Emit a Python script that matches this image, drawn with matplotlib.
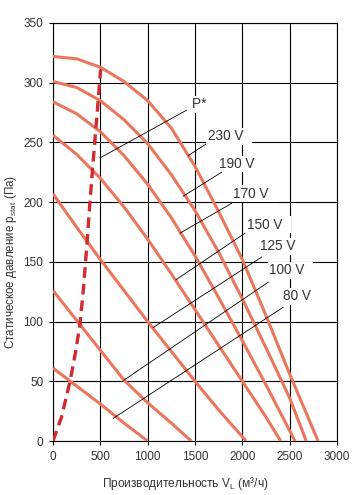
import matplotlib
matplotlib.use("Agg")
import matplotlib.pyplot as plt

plt.rcParams['font.family'] = ['Liberation Sans', 'DejaVu Sans']

# ------------------------------------------------------------
# Fan curves: airflow (m3/h) -> static pressure (Pa), per voltage
# ------------------------------------------------------------
flow_230 = [0, 250, 500, 750, 1000, 1250, 1500, 1750, 2000, 2250, 2500, 2800]
pres_230 = [322, 320, 313, 301, 285, 262, 230, 192, 152, 105, 56, 0]

flow_190 = [0, 250, 500, 750, 1000, 1250, 1500, 1750, 2000, 2250, 2500, 2675]
pres_190 = [301, 296, 285, 269, 249, 223, 193, 158, 119, 78, 36, 0]

flow_170 = [0, 250, 500, 750, 1000, 1250, 1500, 1750, 2000, 2250, 2556]
pres_170 = [284, 274, 259, 239, 215, 187, 155, 120, 84, 47, 0]

flow_150 = [0, 250, 500, 750, 1000, 1250, 1500, 1750, 2000, 2250, 2405]
pres_150 = [256, 240, 220, 196, 169, 140, 110, 80, 50, 20, 0]

flow_125 = [0, 250, 500, 750, 1000, 1250, 1500, 1750, 2040]
pres_125 = [207, 179, 152, 126, 100, 75, 50, 26, 0]

flow_100 = [0, 250, 500, 750, 1000, 1250, 1460]
pres_100 = [126, 101, 76, 51, 32, 15, 0]

flow_80 = [0, 250, 500, 750, 1000]
pres_80 = [61, 46, 31, 15, 0]

curves = [(flow_230, pres_230), (flow_190, pres_190), (flow_170, pres_170),
          (flow_150, pres_150), (flow_125, pres_125), (flow_100, pres_100),
          (flow_80, pres_80)]

# P* operating line (dashed)
p_flow = [0, 90, 180, 240, 285, 320, 356, 390, 420, 443, 472, 503]
p_pres = [0, 20, 50, 75, 98, 126, 162, 200, 230, 252, 280, 311]

# labels: text, text anchor (left/centre), leader start, leader end
label_text = ["P*", "230 V", "190 V", "170 V", "150 V", "125 V", "100 V", "80 V"]
label_pos = [(1465, 282), (1634, 255), (1753, 232), (1904, 207),
             (2045, 181), (2186, 163), (2281, 143), (2432, 121)]
leader_start = [(1411, 277), (1623, 249), (1781, 225), (1887, 199),
                (2028, 174), (2204, 154), (2274, 133), (2432, 112)]
leader_end = [(496, 237), (1429, 239), (1376, 205), (1341, 174),
              (1299, 135), (1059, 95), (750, 51), (637, 19)]

x_ticks = [0, 500, 1000, 1500, 2000, 2500, 3000]
y_ticks = [0, 50, 100, 150, 200, 250, 300, 350]

curve_color = '#EA765D'
dash_color = '#D22B2E'
text_color = '#333333'

fig = plt.figure(figsize=(3.56, 4.95), dpi=100)
ax = fig.add_axes([53 / 356, 1 - 441 / 495, 284 / 356, 418 / 495])

for fl, pr in curves:
    ax.plot(fl, pr, color=curve_color, lw=2.2, solid_capstyle='butt',
            solid_joinstyle='round', zorder=3)

ax.plot(p_flow, p_pres, color=dash_color, lw=2.4,
        linestyle=(0, (3.2, 1.8)), zorder=4)

for (x0, y0), (x1, y1) in zip(leader_start, leader_end):
    ax.plot([x0, x1], [y0, y1], color='black', lw=0.6, zorder=5)

for txt, (tx, ty) in zip(label_text, label_pos):
    ax.text(tx, ty, txt + "  ", fontsize=9.8, color=text_color,
            ha='left', va='center', zorder=6,
            bbox=dict(boxstyle='square,pad=0.1', fc='white', ec='none'))

ax.set_xlim(0, 3000)
ax.set_ylim(0, 350)
ax.set_xticks(x_ticks)
ax.set_yticks(y_ticks)
ax.grid(True, color='black', lw=0.8)
ax.set_axisbelow(True)
for sp in ax.spines.values():
    sp.set_color('black')
    sp.set_linewidth(0.8)
ax.tick_params(direction='out', length=3, width=0.8, colors='black',
               labelcolor=text_color, labelsize=8.5, pad=4)

fig.text(185.5 / 356, 1 - 483 / 495, 'Производительность V$_{\\mathregular{L}}$ (м³/ч)',
         fontsize=8.6, color=text_color, ha='center', va='center')
fig.text(11 / 356, 1 - 262 / 495,
         'Статическое давление p$_{\\mathregular{stat}}$ (Па)',
         fontsize=8.4, color=text_color, ha='center', va='center', rotation=90)

fig.savefig("out.png", dpi=100)
